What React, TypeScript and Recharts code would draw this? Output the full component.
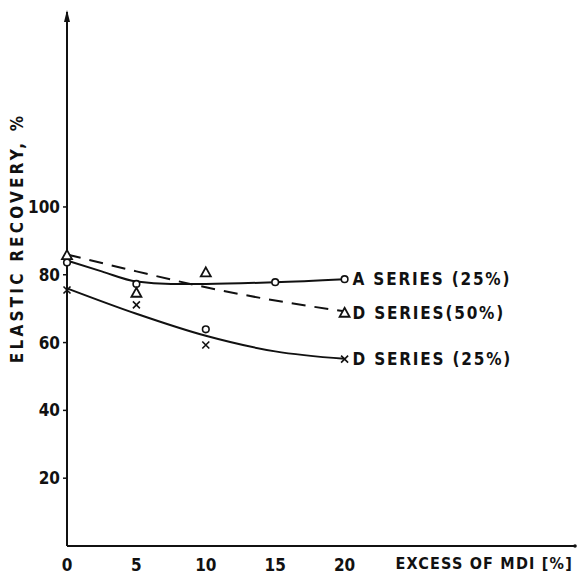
import React from 'react';
import { ComposedChart, Line, Scatter, XAxis, YAxis, ReferenceDot } from 'recharts';

const xTicks = [0, 5, 10, 15, 20];
const yTicks = [20, 40, 60, 80, 100];

// fitted curves
const aSeriesCurve = [
  { x: 0, y: 84.2 }, { x: 2.5, y: 81 }, { x: 5, y: 78 }, { x: 7.5, y: 77.3 },
  { x: 10, y: 77.3 }, { x: 15, y: 77.8 }, { x: 20, y: 78.7 },
];
const d50Curve = [
  { x: 0, y: 86 }, { x: 5, y: 81 }, { x: 10, y: 76.3 }, { x: 15, y: 72.4 }, { x: 20, y: 69.2 },
];
const d25Curve = [
  { x: 0, y: 76 }, { x: 5, y: 68.5 }, { x: 10, y: 62 }, { x: 15, y: 57.4 }, { x: 20, y: 55.2 },
];

// measured points
const circlePoints = [
  { x: 0, y: 83.6 }, { x: 5, y: 77.3 }, { x: 10, y: 63.9 }, { x: 15, y: 77.8 }, { x: 20, y: 78.7 },
];
const trianglePoints = [
  { x: 0, y: 85.8 }, { x: 5, y: 74.7 }, { x: 10, y: 80.7 }, { x: 20, y: 68.8 },
];
const crossPoints = [
  { x: 0, y: 75.5 }, { x: 5, y: 71.1 }, { x: 10, y: 59.3 }, { x: 20, y: 55.1 },
];

const seriesLabels = [
  { x: 20, y: 78.7, name: 'A SERIES (25%)' },
  { x: 20, y: 68.8, name: 'D SERIES(50%)' },
  { x: 20, y: 55.1, name: 'D SERIES (25%)' },
];

const FONT = "'DejaVu Sans Condensed', 'DejaVu Sans', sans-serif";
const INK = '#111';

const CircleShape = (p: any) => (
  <circle cx={p.cx} cy={p.cy} r={3.3} fill="#fff" stroke={INK} strokeWidth={1.6} />
);
const TriangleShape = (p: any) => (
  <path d={`M${p.cx},${p.cy - 5} L${p.cx + 5},${p.cy + 4} L${p.cx - 5},${p.cy + 4} Z`} fill="#fff" stroke={INK} strokeWidth={1.8} />
);
const CrossShape = (p: any) => (
  <path d={`M${p.cx - 3.5},${p.cy - 3.5} L${p.cx + 3.5},${p.cy + 3.5} M${p.cx + 3.5},${p.cy - 3.5} L${p.cx - 3.5},${p.cy + 3.5}`} stroke={INK} strokeWidth={1.6} />
);
const LabelShape = (p: any) => (
  <text x={p.cx + 8} y={p.cy + 6} fontFamily={FONT} fontWeight="bold" fontSize={17} letterSpacing={1.8} fill={INK}>
    {p.payload?.name}
  </text>
);

const XTick = (p: any) => (
  <text x={p.x} y={p.y + 17} textAnchor="middle" fontFamily={FONT} fontWeight="bold" fontSize={17} fill={INK}>
    {p.payload.value}
  </text>
);
const YTick = (p: any) => (
  <text x={p.x - 1} y={p.y + 6} textAnchor="end" fontFamily={FONT} fontWeight="bold" fontSize={17} fill={INK}>
    {p.payload.value}
  </text>
);

const ArrowUp = (p: any) => (
  <path d={`M${p.cx},${p.cy - 2} L${p.cx + 3},${p.cy + 10} L${p.cx - 3},${p.cy + 10} Z`} fill={INK} />
);
const EndDot = (p: any) => <circle cx={p.cx} cy={p.cy} r={1.8} fill={INK} />;

export default function App() {
  return (
    <div style={{ position: 'absolute', left: 0, top: 0, background: '#fff' }}>
      <ComposedChart width={578} height={577} margin={{ top: 12, right: 3, bottom: 6, left: 7 }}>
        <XAxis
          type="number"
          dataKey="x"
          domain={[0, 36.6]}
          ticks={xTicks}
          tick={<XTick />}
          tickLine={false}
          axisLine={{ stroke: INK, strokeWidth: 2 }}
          height={25}
          interval={0}
          label={{
            content: (props: any) => {
              const vb = props.viewBox;
              return (
                <text x={vb.x + vb.width - 2} y={vb.y + 23} textAnchor="end" fontFamily={FONT} fontWeight="bold" fontSize={16} letterSpacing={1.2} fill={INK}>
                  EXCESS OF MDI [%]
                </text>
              );
            },
          }}
        />
        <YAxis
          type="number"
          dataKey="y"
          domain={[0, 157.5]}
          ticks={yTicks}
          tick={<YTick />}
          tickSize={4}
          tickLine={{ stroke: INK, strokeWidth: 1.5 }}
          axisLine={{ stroke: INK, strokeWidth: 2 }}
          width={60}
          interval={0}
          label={{
            content: () => (
              <text x={23} y={238} transform="rotate(-90 23 238)" textAnchor="middle" fontFamily={FONT} fontWeight="bold" fontSize={17} letterSpacing={3.2} fill={INK}>
                ELASTIC RECOVERY, %
              </text>
            ),
          }}
        />
        <Line data={aSeriesCurve} dataKey="y" type="monotone" stroke={INK} strokeWidth={2} dot={false} isAnimationActive={false} />
        <Line data={d50Curve} dataKey="y" type="monotone" stroke={INK} strokeWidth={2} strokeDasharray="14 9" dot={false} isAnimationActive={false} />
        <Line data={d25Curve} dataKey="y" type="monotone" stroke={INK} strokeWidth={2} dot={false} isAnimationActive={false} />
        <Scatter data={circlePoints} dataKey="y" shape={CircleShape} isAnimationActive={false} />
        <Scatter data={trianglePoints} dataKey="y" shape={TriangleShape} isAnimationActive={false} />
        <Scatter data={crossPoints} dataKey="y" shape={CrossShape} isAnimationActive={false} />
        <Scatter data={seriesLabels} dataKey="y" shape={LabelShape} isAnimationActive={false} />
        <ReferenceDot x={0} y={157.5} shape={ArrowUp} ifOverflow="visible" />
        <ReferenceDot x={36.6} y={0} shape={EndDot} ifOverflow="visible" />
      </ComposedChart>
    </div>
  );
}
